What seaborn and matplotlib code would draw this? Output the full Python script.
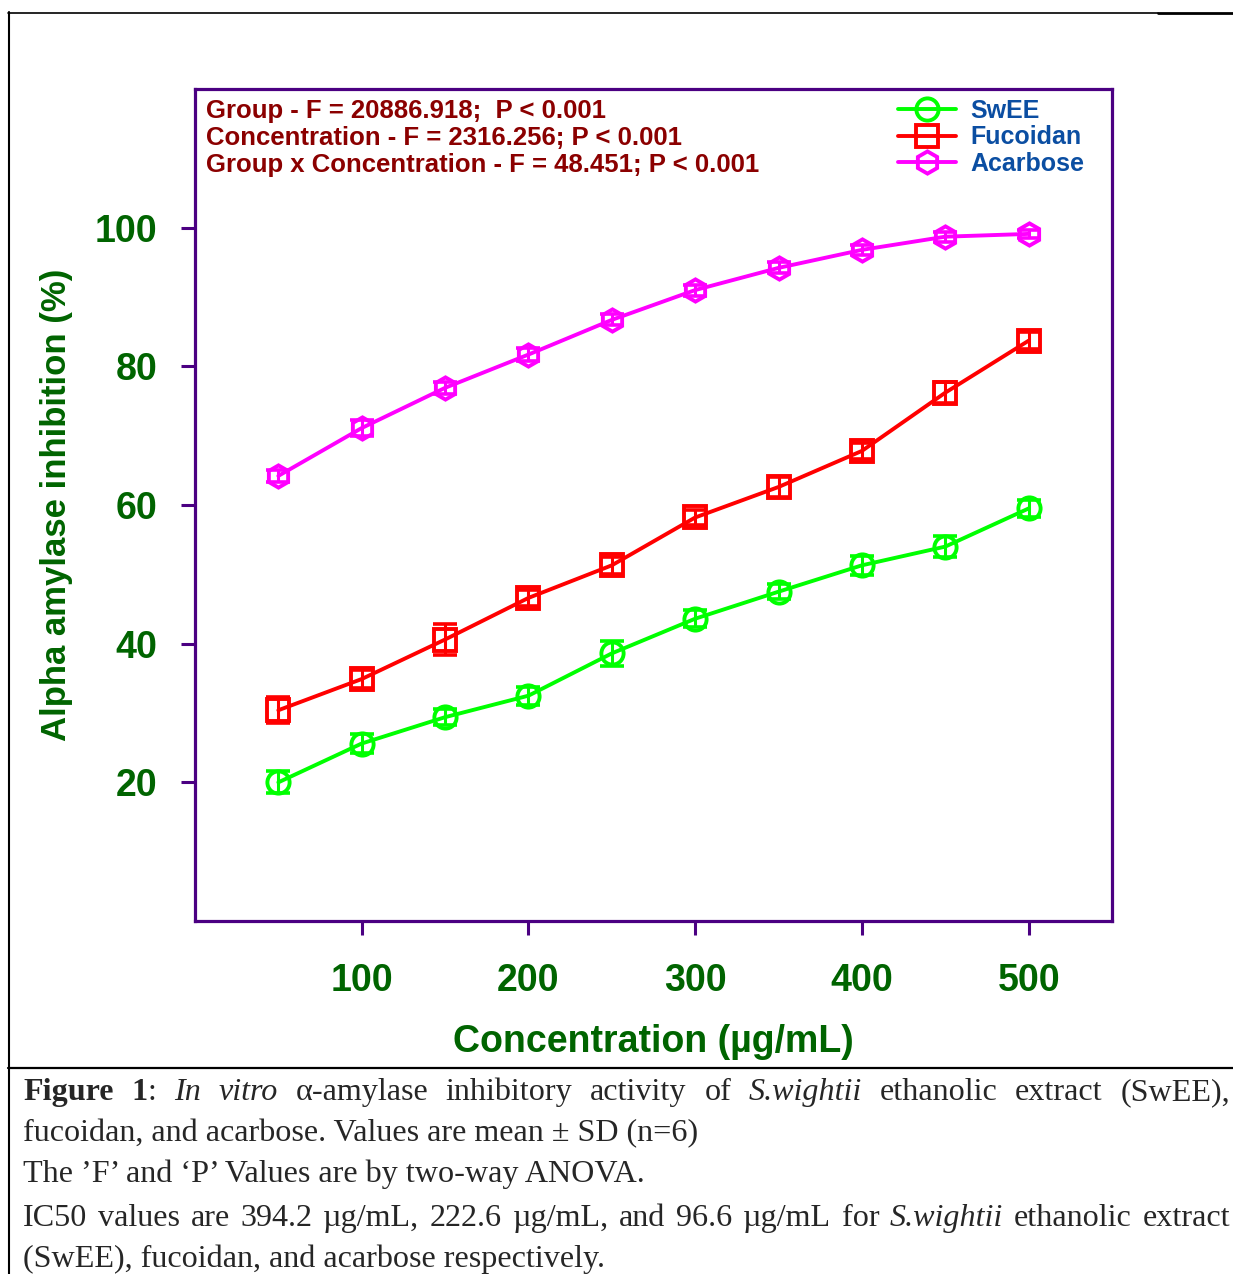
import numpy as np
import pandas as pd
import matplotlib
matplotlib.use("Agg")
import matplotlib.pyplot as plt
import seaborn as sns
from matplotlib.lines import Line2D

# ── data ───────────────────────────────────────────────────────────────────
conc = [50, 100, 150, 200, 250, 300, 350, 400, 450, 500]
groups = ["SwEE", "Fucoidan", "Acarbose"]

swee_mean = [20.0, 25.6, 29.4, 32.5, 38.6, 43.6, 47.5, 51.3, 54.0, 59.5]
swee_sd   = [1.6, 1.3, 1.2, 1.3, 1.8, 1.2, 1.1, 1.4, 1.5, 1.2]
fuco_mean = [30.4, 34.9, 40.6, 46.6, 51.3, 58.2, 62.6, 67.8, 76.2, 83.7]
fuco_sd   = [1.9, 1.3, 2.2, 1.1, 1.2, 1.1, 1.4, 1.2, 1.5, 1.2]
acar_mean = [64.2, 71.1, 76.9, 81.7, 86.7, 91.0, 94.2, 96.8, 98.7, 99.1]
acar_sd   = [0.9, 1.1, 0.9, 0.9, 0.8, 0.8, 0.8, 0.7, 0.7, 0.6]

x_ticks = [100, 200, 300, 400, 500]
y_ticks = [20, 40, 60, 80, 100]

anova_lines = [
    "Group - F = 20886.918;  P < 0.001",
    "Concentration - F = 2316.256; P < 0.001",
    "Group x Concentration - F = 48.451; P < 0.001",
]

W, H = 1233, 1274
INDIGO = "#4B0082"
GREEN_TXT = "#006400"
palette = {"SwEE": "#00FF00", "Fucoidan": "#FF0000", "Acarbose": "#FF00FF"}
markers = {"SwEE": "o", "Fucoidan": "s", "Acarbose": "h"}

df = pd.DataFrame({
    "conc": conc * 3,
    "group": np.repeat(groups, len(conc)),
    "mean": swee_mean + fuco_mean + acar_mean,
    "sd": swee_sd + fuco_sd + acar_sd,
})

sns.set_style("white")
plt.rcParams["font.family"] = ["Liberation Sans", "DejaVu Sans"]


def fx(px):
    return px / W


def fy(py):
    return 1 - py / H


fig = plt.figure(figsize=(W / 100, H / 100), dpi=100)
ax = fig.add_axes([fx(195), fy(921), fx(1112) - fx(195), fy(89) - fy(921)])

sns.lineplot(data=df, x="conc", y="mean", hue="group", style="group",
             palette=palette, markers=markers, dashes=False,
             hue_order=groups, style_order=groups,
             linewidth=2.8, markersize=16, legend=False, ax=ax)

series_lines = list(ax.lines)
for ln in series_lines:
    c = ln.get_color()
    ln.set_markerfacecolor("none")
    ln.set_markeredgecolor(c)
    ln.set_markeredgewidth(2.8)
    ln.set_zorder(3)

for g in groups:
    sub = df[df["group"] == g]
    ax.errorbar(sub["conc"], sub["mean"], yerr=sub["sd"], fmt="none",
                ecolor=palette[g], elinewidth=2.2, capsize=8.6,
                capthick=2.6, zorder=3)

ax.set_xlim(0, 550)
ax.set_ylim(0, 120)
ax.set_xticks(x_ticks)
ax.set_yticks(y_ticks)
ax.tick_params(axis="both", bottom=True, left=True, direction="out",
               length=10, width=2.2, color=INDIGO, labelcolor=GREEN_TXT,
               labelsize=27)
ax.tick_params(axis="x", pad=20)
ax.tick_params(axis="y", pad=17)
for lab in ax.get_xticklabels() + ax.get_yticklabels():
    lab.set_fontweight("bold")
for sp in ax.spines.values():
    sp.set_color(INDIGO)
    sp.set_linewidth(2.3)

ax.set_xlabel("Concentration (µg/mL)", fontsize=27, fontweight="bold",
              color=GREEN_TXT, labelpad=18)
ax.set_ylabel("Alpha amylase inhibition (%)", fontsize=25,
              fontweight="bold", color=GREEN_TXT, labelpad=16)

# ANOVA text block
for i, txt in enumerate(anova_lines):
    fig.text(fx(206), fy(118 + 27 * i), txt, fontsize=18.5, fontweight="bold",
             color="#8B0000", va="baseline", ha="left")

leg = ax.legend(handles=series_lines, labels=groups, loc="upper left",
                bbox_to_anchor=(fx(898), fy(99)), bbox_transform=fig.transFigure,
                frameon=False, borderpad=0, borderaxespad=0,
                handlelength=2.3, handletextpad=0.6, labelspacing=0.1,
                labelcolor="#0B4EA2", prop={"weight": "bold", "size": 18})

# ── page frame lines ───────────────────────────────────────────────────────
frame = [
    ((8, 1158), (12.5, 12.5), 1.2),
    ((1158, 1233), (13, 13), 2.0),
    ((8.5, 8.5), (12, 1274), 1.5),
    ((8, 1233), (1068, 1068), 1.6),
]
for xs, ys, lw in frame:
    fig.add_artist(Line2D([fx(xs[0]), fx(xs[1])], [fy(ys[0]), fy(ys[1])],
                          transform=fig.transFigure, color="black", lw=lw))

# ── caption ────────────────────────────────────────────────────────────────
CAP_SIZE = 23.1
SERIF = "Liberation Serif"
renderer = fig.canvas.get_renderer()


def style_kw(s):
    return {"fontweight": "bold" if "b" in s else "normal",
            "fontstyle": "italic" if "i" in s else "normal"}


def justified(words, y_px, x0=23, x1=1230):
    measured = []
    total = 0
    for word in words:
        parts = []
        wsum = 0
        for txt, s in word:
            t = fig.text(0, 0, txt, family=SERIF, fontsize=CAP_SIZE,
                         va="baseline", ha="left", **style_kw(s))
            w = t.get_window_extent(renderer).width
            parts.append((t, w))
            wsum += w
        measured.append(parts)
        total += wsum
    gap = (x1 - x0 - total) / (len(words) - 1)
    x = x0
    for parts in measured:
        for t, w in parts:
            t.set_position((fx(x), fy(y_px)))
            x += w
        x += gap


def plain(text, y_px, x0=23):
    fig.text(fx(x0), fy(y_px), text, family=SERIF, fontsize=CAP_SIZE,
             va="baseline", ha="left")


line1 = [[("Figure", "b")], [("1", "b"), (":", "")], [("In", "i")],
         [("vitro", "i")], [("α-amylase", "")], [("inhibitory", "")],
         [("activity", "")], [("of", "")], [("S.wightii", "i")],
         [("ethanolic", "")], [("extract", "")], [("(SwEE),", "")]]
justified(line1, 1100)
plain("fucoidan, and acarbose. Values are mean ± SD (n=6)", 1141)
plain("The ’F’ and ‘P’ Values are by two-way ANOVA.", 1182)
line4 = [[(w, "")] for w in "IC50 values are 394.2 µg/mL, 222.6 µg/mL, and 96.6 µg/mL for".split()]
line4 += [[("S.wightii", "i")], [("ethanolic", "")], [("extract", "")]]
justified(line4, 1226)
plain("(SwEE), fucoidan, and acarbose respectively.", 1267)

fig.savefig("out.png", dpi=100)
